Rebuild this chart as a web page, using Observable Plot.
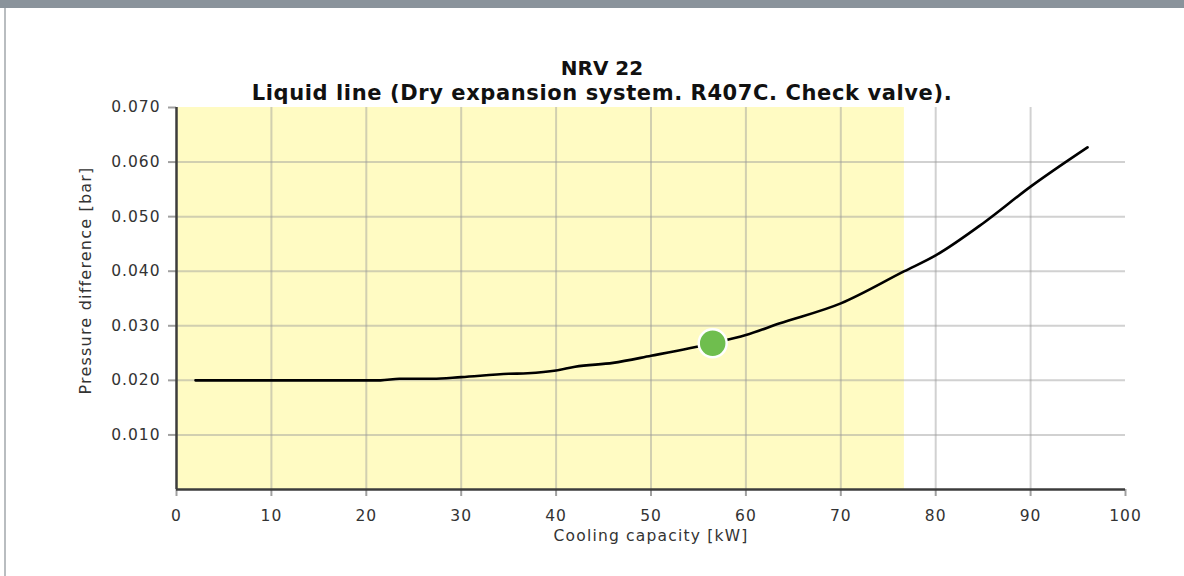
<!DOCTYPE html>
<html>
<head>
<meta charset="utf-8">
<script src="https://cdn.jsdelivr.net/npm/d3@7"></script>
<script src="https://cdn.jsdelivr.net/npm/@observablehq/plot@0.6"></script>
<style>
  html, body { margin: 0; padding: 0; background: #fff; }
  body { width: 1184px; height: 576px; position: relative; overflow: hidden; font-family: "DejaVu Sans", Verdana, sans-serif; }
  #topbar { position: absolute; left: 0; top: 0; width: 1184px; height: 8px; background: #8a939b; }
  #leftbar { position: absolute; left: 4px; top: 8px; width: 2px; height: 568px; background: #b9bdc0; }
  #titles { position: absolute; left: 20px; top: 56px; width: 1164px; text-align: center; font-weight: bold; color: #111; line-height: 25px; z-index: 2; }
  #t1 { font-size: 20px; }
  #t2 { font-size: 21px; letter-spacing: 0.6px; }
  #chart { position: absolute; left: 0; top: 88px; z-index: 1; }
</style>
</head>
<body>
<div id="topbar"></div>
<div id="leftbar"></div>
<div id="titles">
  <div id="t1"></div>
  <div id="t2"></div>
</div>
<div id="chart"></div>
<script>
const titleText = "NRV 22";
const subtitleText = "Liquid line (Dry expansion system. R407C. Check valve).";
const xLabel = "Cooling capacity [kW]";
const yLabel = "Pressure difference [bar]";

const xTicks = [0, 10, 20, 30, 40, 50, 60, 70, 80, 90, 100];
const yTicks = [0.01, 0.02, 0.03, 0.04, 0.05, 0.06, 0.07];
const xGrid = [10, 20, 30, 40, 50, 60, 70, 80, 90];
const yGrid = [0.01, 0.02, 0.03, 0.04, 0.05, 0.06];

const capacity = [2, 10, 21.5, 23.5, 27, 30, 35, 37, 40, 42, 46, 50, 56.5, 60, 63.5, 70, 76.7, 80, 85, 90, 96];
const pressure = [0.0200, 0.0200, 0.0200, 0.0203, 0.0203, 0.0206, 0.0212, 0.0213, 0.0218, 0.0225, 0.0232, 0.0245, 0.0268, 0.0283, 0.0304, 0.0341, 0.0400, 0.0429, 0.0488, 0.0555, 0.0627];

const zoneStart = [0];
const zoneEnd = [76.7];
const pointX = [56.5];
const pointY = [0.0268];

document.getElementById("t1").textContent = titleText;
document.getElementById("t2").textContent = subtitleText;

const curve = capacity.map((c, i) => ({c, p: pressure[i]}));
const zone = zoneStart.map((s, i) => ({s, e: zoneEnd[i]}));
const points = pointX.map((x, i) => ({x, y: pointY[i]}));

const chart = Plot.plot({
  width: 1184,
  height: 488,
  marginTop: 19,
  marginBottom: 87,
  marginLeft: 176,
  marginRight: 59,
  style: { fontFamily: "DejaVu Sans, Verdana, sans-serif", background: "transparent" },
  x: { domain: [0, 100], axis: null },
  y: { domain: [0, 0.07], axis: null },
  marks: [
    Plot.rect(zone, { x1: "s", x2: "e", fill: "#fffbc3" }),
    Plot.gridX(xGrid, { stroke: "#9a9a9a", strokeOpacity: 0.45, strokeWidth: 2 }),
    Plot.gridY(yGrid, { stroke: "#9a9a9a", strokeOpacity: 0.45, strokeWidth: 2 }),
    Plot.axisX(xTicks, { tickSize: 7, tickPadding: 13, stroke: "#a0a0a0", strokeWidth: 2, fill: "#333", fontSize: 15.5, label: null, tickFormat: d3.format("d") }),
    Plot.axisY(yTicks, { tickSize: 8, tickPadding: 8, stroke: "#a0a0a0", strokeWidth: 2, fill: "#333", fontSize: 15.5, label: null, tickFormat: d3.format(".3f") }),
    Plot.ruleY([0], { stroke: "#3c3c3c", strokeWidth: 2.5 }),
    Plot.ruleX([0], { stroke: "#3c3c3c", strokeWidth: 2.5 }),
    Plot.line(curve, { x: "c", y: "p", curve: "monotone-x", stroke: "#000", strokeWidth: 2.6 }),
    Plot.dot(points, { x: "x", y: "y", r: 14, fill: "#6fbe4e", stroke: "#fff", strokeWidth: 2.5 }),
    Plot.text([xLabel], { frameAnchor: "bottom", dy: 51, fontSize: 15.5, fill: "#333" }),
    Plot.text([yLabel], { frameAnchor: "left", textAnchor: "middle", rotate: -90, dx: -91, dy: -18, fontSize: 16, fill: "#333" })
  ]
});
document.getElementById("chart").appendChild(chart);
d3.select(chart).selectAll('g[aria-label="x-axis tick label"] text, g[aria-label="y-axis tick label"] text').style("letter-spacing", "1px");
d3.select(chart).selectAll('g[aria-label="text"] text').style("letter-spacing", "1.2px");
</script>
</body>
</html>
